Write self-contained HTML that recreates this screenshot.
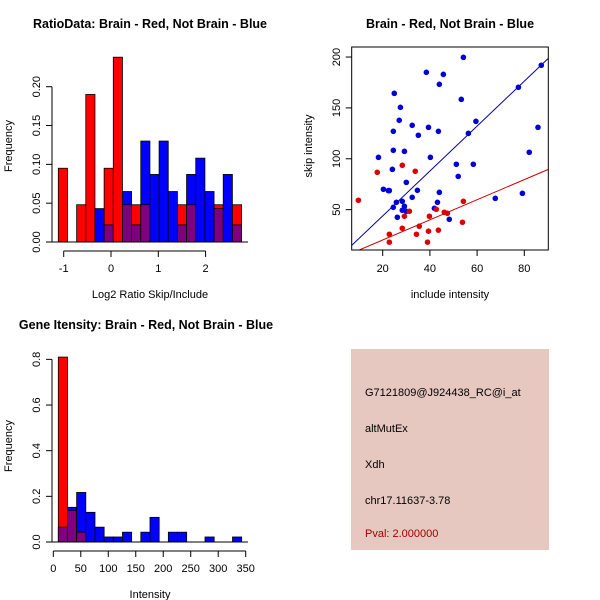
<!DOCTYPE html>
<html><head><meta charset="utf-8"><style>
body{margin:0;background:#fff}
svg{display:block;font-family:"Liberation Sans",Arial,sans-serif}
</style></head><body>
<svg id="c" width="600" height="600" viewBox="0 0 600 600" xmlns="http://www.w3.org/2000/svg"></svg>
<script>
// ---- Panel 1: ratio histogram ----
const ratioBreakStart = -1.114;
const ratioBinWidth = 0.1937;
const ratioRed  = [0.095,0,0.048,0.19,0,0.095,0.238,0.048,0.048,0.048,0,0,0,0.048,0.048,0,0,0.048,0,0.048];
const ratioBlue = [0,0,0,0,0.043,0.022,0,0.065,0.022,0.13,0.087,0.13,0.065,0.022,0.087,0.108,0.065,0.043,0.087,0.022];
const ratioXTicks = [-1,0,1,2];
const ratioYTicks = [0,0.05,0.10,0.15,0.20];
const ratioYTickLabels = ["0.00","0.05","0.10","0.15","0.20"];
// ---- Panel 2: scatter ----
const blueX = [54.2,87.2,38.5,45.7,44.0,77.5,24.9,53.3,27.5,27.0,59.5,32.5,39.4,85.8,24.5,43.6,35.1,56.3,24.5,29.2,82.1,40.2,18.2,51.2,58.4,24.1,52.0,30.0,20.3,22.4,22.8,34.7,44.0,32.5,67.7,79.2,28.3,25.8,43.2,24.5,29.2,41.9,28.3,30.0,26.2,48.2];
const blueY = [199.7,191.9,185,183,173.2,170.3,164.3,158.4,150.6,137.8,136.8,132.9,130.9,130.9,127,127,123.1,125,108.3,107.3,106.4,101.4,101.4,94.6,94.6,89.6,82.7,76.8,70,68.7,68.7,69,67,62.1,61.1,66,58.2,57.2,57.2,52.3,53.3,51.3,49.4,48.4,42.5,40.5];
const redX = [9.7,17.7,28.3,33.8,54.2,31.3,42.7,46.1,47.4,39.8,29.2,53.8,35.5,28.3,43.6,39.4,34.3,22.8,22.8,39.0];
const redY = [59.2,86.7,93.6,87.7,58.2,48.4,50.3,47.4,46.4,43.5,43.5,37.6,33.7,31.7,29.8,28.8,25.8,25.8,18,18];
const blueFit = [-0.3, 2.207];
const redFit = [0.4, 0.989];
const scatXTicks = [20,40,60,80];
const scatYTicks = [50,100,150,200];
// ---- Panel 3: intensity histogram ----
const intBreakStart = 9.1;
const intBinWidth = 16.68;
const intRed  = [0.81,0.138,0.043,0,0,0,0,0,0,0,0,0,0,0,0,0,0,0,0,0];
const intBlue = [0.065,0.152,0.217,0.13,0.065,0.022,0.022,0.043,0,0.043,0.108,0,0.043,0.043,0,0,0.022,0,0,0.022];
const intXTicks = [0,50,100,150,200,250,300,350];
const intYTicks = [0,0.2,0.4,0.6,0.8];
const intYTickLabels = ["0.0","0.2","0.4","0.6","0.8"];
// ---- Panel 4: info ----
const infoLines = ["G7121809@J924438_RC@i_at","altMutEx","Xdh","chr17.11637-3.78"];
const pvalText = "Pval: 2.000000";

const S = document.getElementById('c');
const NS = "http://www.w3.org/2000/svg";
function mk(tag, attrs, parent){const e=document.createElementNS(NS,tag);for(const k in attrs)e.setAttribute(k,attrs[k]);(parent||S).appendChild(e);return e;}
function txt(x,y,s,opts,parent){const t=mk('text',Object.assign({x:x,y:y,'font-size':11,fill:'#000','text-anchor':'middle'},opts||{}),parent);t.textContent=s;return t;}

function histogram(g, start, w, red, blue, sx, sy){
  for(let i=0;i<red.length;i++){
    const x0=sx(start+i*w), x1=sx(start+(i+1)*w);
    const r=red[i], b=blue[i];
    const hi=Math.max(r,b), lo=Math.min(r,b);
    if(hi>0){
      const bar=mk('rect',{x:x0,y:sy(hi),width:x1-x0,height:sy(0)-sy(hi),fill:r>=b?'#ff0000':'#0000ff',stroke:'#000','stroke-width':0.8},g);
      
      
    }
    if(lo>0){
      const ov=mk('rect',{x:x0,y:sy(lo),width:x1-x0,height:sy(0)-sy(lo),fill:'#7f007f',stroke:'#000','stroke-width':0.8},g);
      
      
    }
  }
}

// Panel 1
(function(){
  const g=mk('g',{});
  
  
  const sx=v=>111+(v)*47.3, sy=v=>242-v*776.5;
  const t=txt(150,28,"RatioData: Brain - Red, Not Brain - Blue",{'font-weight':'bold','font-size':12.5},g);
   
  histogram(g,ratioBreakStart,ratioBinWidth,ratioRed,ratioBlue,sx,sy);
  mk('line',{x1:52,x2:248,y1:242,y2:242,stroke:'#000'},g);
  mk('line',{x1:52,x2:52,y1:sy(0),y2:sy(0.2),stroke:'#000'},g);
  ratioYTicks.forEach((v,i)=>{mk('line',{x1:46,x2:52,y1:sy(v),y2:sy(v),stroke:'#000'},g);
    const l=txt(0,0,ratioYTickLabels[i],{transform:`translate(40,${sy(v)}) rotate(-90)`},g);
    });
  mk('line',{x1:sx(-1),x2:sx(2),y1:251,y2:251,stroke:'#000'},g);
  ratioXTicks.forEach(v=>{mk('line',{x1:sx(v),x2:sx(v),y1:251,y2:257,stroke:'#000'},g);
    const l=txt(sx(v),272,String(v),{},g);});
  const xl=txt(150,298,"Log2 Ratio Skip/Include",{},g);
  const yl=txt(0,0,"Frequency",{transform:'translate(12,146) rotate(-90)'},g);
})();

// Panel 2
(function(){
  const g=mk('g',{});
  
  
  const sx=v=>335.5+v*2.36, sy=v=>260.5-v*1.0173;
  const L=351.7,R=548.3,T=47,B=250;
  const t=txt(450,28,"Brain - Red, Not Brain - Blue",{'font-weight':'bold','font-size':12.5},g);
  
  const cp=mk('clipPath',{id:'clp'},g);mk('rect',{x:L,y:T,width:R-L,height:B-T},cp);
  const pg=mk('g',{'clip-path':'url(#clp)'},g);
  const x0=(L-335.5)/2.36, x1=(R-335.5)/2.36;
  const bl=mk('line',{x1:sx(x0),y1:sy(blueFit[0]+blueFit[1]*x0),x2:sx(x1),y2:sy(blueFit[0]+blueFit[1]*x1),stroke:'#0000aa','stroke-width':1},pg);
  
  const rl=mk('line',{x1:sx(x0),y1:sy(redFit[0]+redFit[1]*x0),x2:sx(x1),y2:sy(redFit[0]+redFit[1]*x1),stroke:'#cc0000','stroke-width':1},pg);
  
  blueX.forEach((x,i)=>{const c=mk('circle',{cx:sx(x),cy:sy(blueY[i]),r:2.8,fill:'#0000dd'},pg);
    });
  redX.forEach((x,i)=>{const c=mk('circle',{cx:sx(x),cy:sy(redY[i]),r:2.8,fill:'#dd0000'},pg);
    });
  const fr=mk('rect',{x:L,y:T,width:R-L,height:B-T,fill:'none',stroke:'#000'},g);
  
  scatXTicks.forEach(v=>{mk('line',{x1:sx(v),x2:sx(v),y1:B,y2:B+6,stroke:'#000'},g);
    const l=txt(sx(v),272,String(v),{},g);});
  scatYTicks.forEach(v=>{mk('line',{x1:L-6,x2:L,y1:sy(v),y2:sy(v),stroke:'#000'},g);
    const l=txt(0,0,String(v),{transform:`translate(340,${sy(v)}) rotate(-90)`},g);});
  const xl=txt(450,298,"include intensity",{},g);
  const yl=txt(0,0,"skip intensity",{transform:'translate(312,146) rotate(-90)'},g);
})();

// Panel 3
(function(){
  const g=mk('g',{});
  
  
  const sx=v=>53.3+v*0.5497, sy=v=>542-v*228.3;
  const t=txt(146,329,"Gene Itensity: Brain - Red, Not Brain - Blue",{'font-weight':'bold','font-size':12.5},g);
  
  histogram(g,intBreakStart,intBinWidth,intRed,intBlue,sx,sy);
  mk('line',{x1:52,x2:248,y1:542,y2:542,stroke:'#000'},g);
  mk('line',{x1:52,x2:52,y1:sy(0),y2:sy(0.8),stroke:'#000'},g);
  intYTicks.forEach((v,i)=>{mk('line',{x1:46,x2:52,y1:sy(v),y2:sy(v),stroke:'#000'},g);
    const l=txt(0,0,intYTickLabels[i],{transform:`translate(40,${sy(v)}) rotate(-90)`},g);});
  mk('line',{x1:sx(0),x2:sx(350),y1:551,y2:551,stroke:'#000'},g);
  intXTicks.forEach(v=>{mk('line',{x1:sx(v),x2:sx(v),y1:551,y2:557,stroke:'#000'},g);
    const l=txt(sx(v),572,String(v),{},g);});
  const xl=txt(150,598,"Intensity",{},g);
  const yl=txt(0,0,"Frequency",{transform:'translate(12,446) rotate(-90)'},g);
})();

// Panel 4
(function(){
  const g=mk('g',{});
  
  
  mk('rect',{x:351,y:349,width:198,height:201,fill:'#e6c8c0'},g);
  const ys=[396,432,468,504];
  infoLines.forEach((s,i)=>{const l=txt(365,ys[i],s,{'text-anchor':'start'},g);
    });
  const p=txt(365,537,pvalText,{'text-anchor':'start',fill:'#a00000'},g);
  
})();
</script>
</body></html>
